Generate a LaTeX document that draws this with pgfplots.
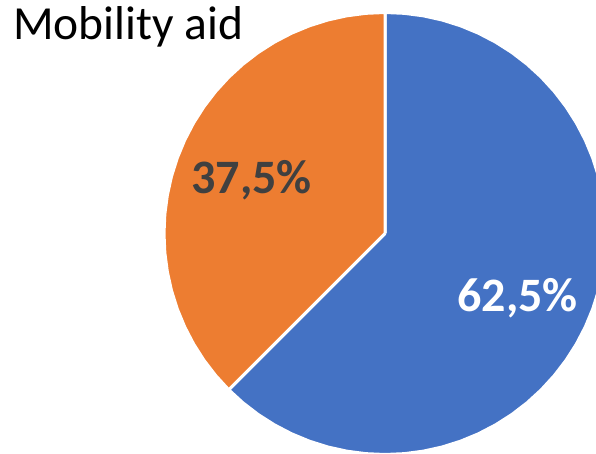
\documentclass[border=0pt]{standalone}
\usepackage{pgfplots}
\pgfplotsset{compat=1.18}
\usepackage{fontspec}
\setmainfont{Carlito}
\definecolor{pieblue}{HTML}{4472C4}
\definecolor{pieorange}{HTML}{ED7D31}
\definecolor{labeldark}{HTML}{404040}
\begin{document}
\begin{tikzpicture}
\begin{axis}[
  scale only axis,
  width=596pt, height=454pt,
  xmin=-385, xmax=211, ymin=-220.5, ymax=233.5,
  hide axis,
  clip=true,
]
% Blue slice: 62.5% (from 90 deg clockwise to -135 deg), polar (angle, radius)
\addplot[fill=pieblue, draw=white, line width=3pt, line join=round, data cs=polar, mark=none] coordinates {
(0,0) (90,221) (85,221) (80,221) (75,221) (70,221) (65,221) (60,221) (55,221) (50,221)
(45,221) (40,221) (35,221) (30,221) (25,221) (20,221) (15,221) (10,221) (5,221) (0,221)
(-5,221) (-10,221) (-15,221) (-20,221) (-25,221) (-30,221) (-35,221) (-40,221) (-45,221)
(-50,221) (-55,221) (-60,221) (-65,221) (-70,221) (-75,221) (-80,221) (-85,221) (-90,221)
(-95,221) (-100,221) (-105,221) (-110,221) (-115,221) (-120,221) (-125,221) (-130,221) (-135,221) (0,0)
};
% Orange slice: 37.5% (from 90 deg counter-clockwise to 225 deg)
\addplot[fill=pieorange, draw=white, line width=3pt, line join=round, data cs=polar, mark=none] coordinates {
(0,0) (90,221) (95,221) (100,221) (105,221) (110,221) (115,221) (120,221) (125,221) (130,221)
(135,221) (140,221) (145,221) (150,221) (155,221) (160,221) (165,221) (170,221) (175,221)
(180,221) (185,221) (190,221) (195,221) (200,221) (205,221) (210,221) (215,221) (220,221) (225,221) (0,0)
};
\node[anchor=base, inner sep=0pt, text=white, font=\fontsize{48}{52}\selectfont\bfseries] at (axis cs:132.5,-78.2) {62,5\%};
\node[anchor=base, inner sep=0pt, text=labeldark, font=\fontsize{48}{52}\selectfont\bfseries] at (axis cs:-133.5,40.2) {37,5\%};
\node[anchor=base west, inner sep=0pt, text=black, font=\fontsize{47.5}{52}\selectfont] at (axis cs:-372,193.5) {Mobility aid};
\end{axis}
\pgfresetboundingbox
\path (current axis.south west) rectangle (current axis.north east);
\end{tikzpicture}
\end{document}
